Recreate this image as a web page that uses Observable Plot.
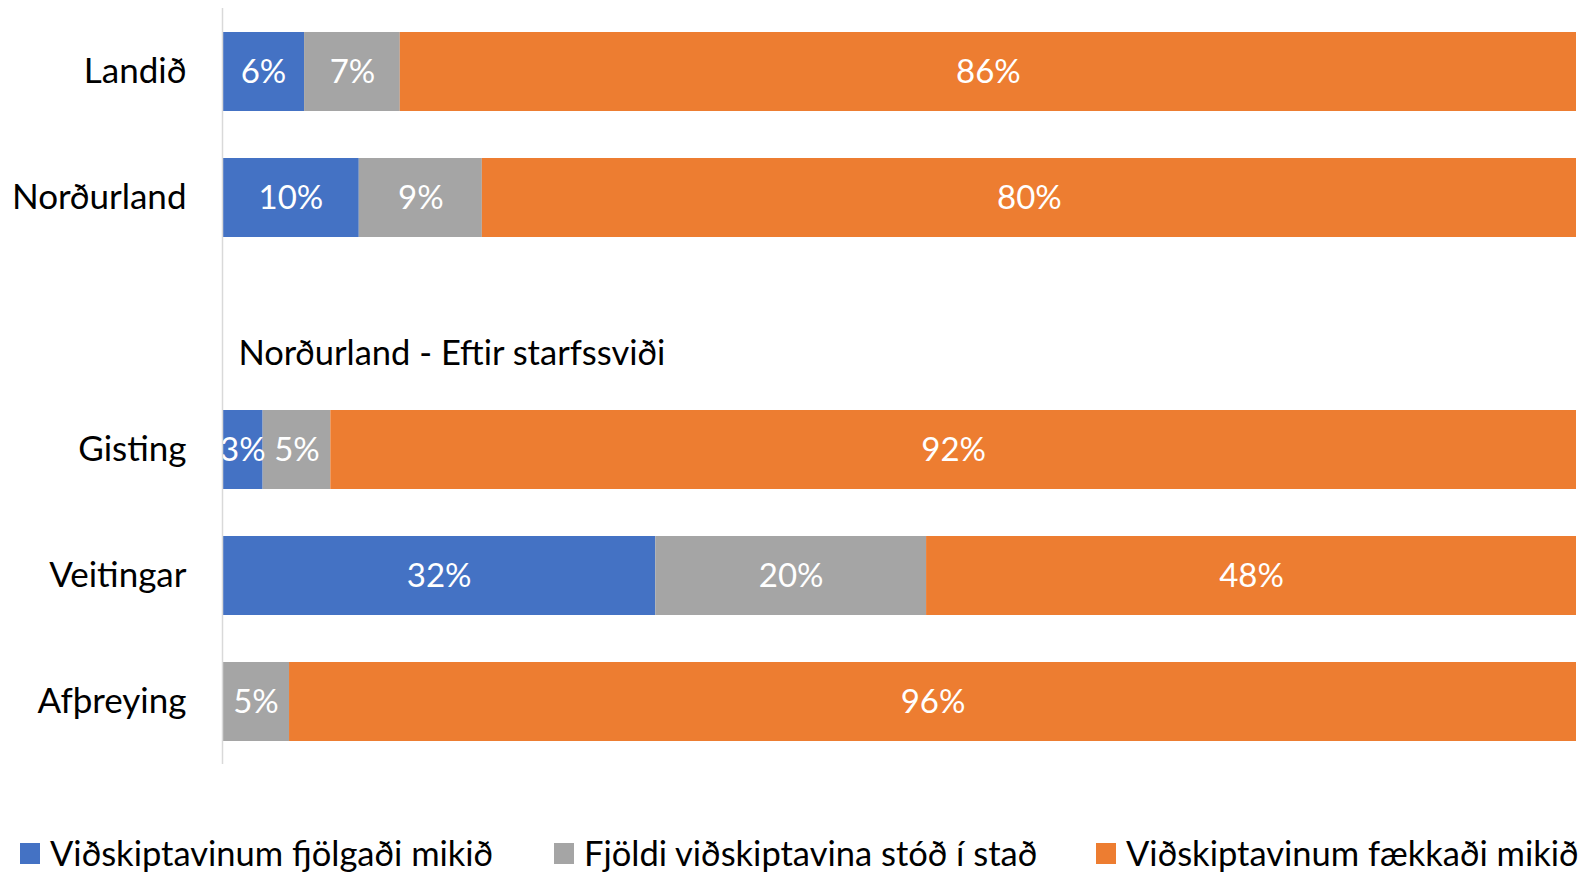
<!DOCTYPE html>
<html>
<head>
<meta charset="utf-8">
<script src="https://cdn.jsdelivr.net/npm/d3@7"></script>
<script src="https://cdn.jsdelivr.net/npm/@observablehq/plot@0.6"></script>
<style>
  html, body { margin: 0; padding: 0; background: #fff; }
  #wrap { position: relative; width: 1586px; height: 875px; font-family: Lato, "Open Sans", sans-serif; }
  #legend { position: absolute; left: 0; top: 833px; width: 1586px; height: 40px; font-size: 34.5px; line-height: 40px; color: #000; white-space: nowrap; }
  .item { position: absolute; top: 0; height: 40px; display: flex; align-items: center; gap: 10px; }
  .sw { width: 20px; height: 21px; display: inline-block; }
</style>
</head>
<body>
<div id="wrap"></div>
<script>
const categories = ["Landið", "Norðurland", " ", "Gisting", "Veitingar", "Afþreying"];
const seriesNames = ["Viðskiptavinum fjölgaði mikið", "Fjöldi viðskiptavina stóð í stað", "Viðskiptavinum fækkaði mikið"];
const colors = ["#4472C4", "#A5A5A5", "#ED7D31"];
const increased = [6, 10, null, 3, 32, 0];
const unchanged = [7, 9, null, 5, 20, 5];
const decreased = [86, 80, null, 92, 48, 96];
const subtitle = "Norðurland - Eftir starfssviði";

const seriesValues = [increased, unchanged, decreased];
const rows = [];
categories.forEach((c, i) => {
  seriesValues.forEach((vals, s) => {
    if (vals[i] != null) rows.push({cat: c, series: seriesNames[s], value: vals[i]});
  });
});

const chart = Plot.plot({
  width: 1586,
  height: 790,
  marginLeft: 222,
  marginRight: 10,
  marginTop: 8,
  marginBottom: 26,
  style: {fontFamily: "Lato, 'Open Sans', sans-serif", background: "#fff"},
  x: {axis: null, domain: [0, 1]},
  y: {domain: categories, range: [31.5, 741.4], paddingInner: 0.375, paddingOuter: 0, axis: null},
  color: {domain: seriesNames, range: colors},
  marks: [
    Plot.barX(rows, Plot.stackX({x: "value", y: "cat", z: "series", fill: "series", offset: "normalize", order: seriesNames})),
    Plot.text(rows, Plot.stackX({
      x: "value", y: "cat", z: "series", offset: "normalize", order: seriesNames,
      text: d => d.value > 0 ? d.value + "%" : "",
      fill: "white", fontSize: 33, clip: true
    })),
    Plot.ruleX([0], {stroke: "#d9d9d9", strokeWidth: 1.5}),
    Plot.text([{cat: " ", label: subtitle}], {
      x: () => 0, y: "cat", text: "label", textAnchor: "start", dx: 16, dy: 30,
      fontSize: 34.5, fill: "#000"
    }),
    Plot.axisY({tickSize: 0, tickPadding: 36, fontSize: 35, label: null, color: "#000", tickFormat: d => d.trim()})
  ]
});

const wrap = document.getElementById("wrap");
wrap.appendChild(chart);
const legend = document.createElement("div");
legend.id = "legend";
const legendLefts = [20, 554, 1096];
seriesNames.forEach((n, i) => {
  const it = document.createElement("div");
  it.className = "item";
  it.style.left = legendLefts[i] + "px";
  const sw = document.createElement("span");
  sw.className = "sw";
  sw.style.background = colors[i];
  const t = document.createElement("span");
  t.textContent = n;
  it.appendChild(sw);
  it.appendChild(t);
  legend.appendChild(it);
});
wrap.appendChild(legend);
</script>
</body>
</html>
